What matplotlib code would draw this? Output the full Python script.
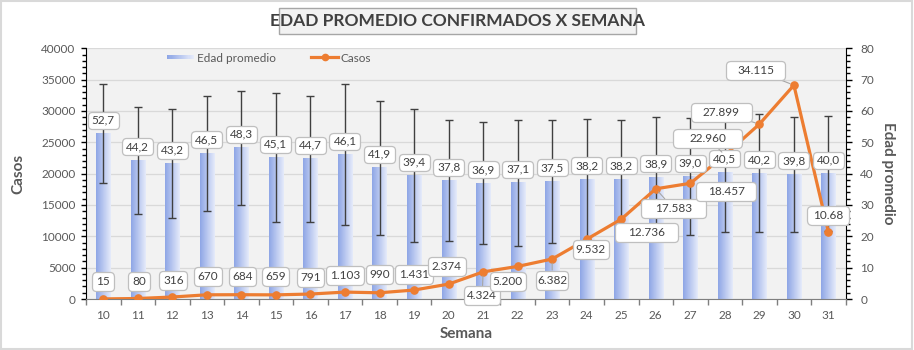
import matplotlib
matplotlib.use("Agg")
import matplotlib.pyplot as plt
import numpy as np
from matplotlib.offsetbox import DrawingArea, AnnotationBbox
from matplotlib.text import Text
from matplotlib.legend_handler import HandlerBase
from matplotlib.patches import Rectangle
from matplotlib.lines import Line2D
from matplotlib.colors import LinearSegmentedColormap
from matplotlib.ticker import MultipleLocator, FixedLocator

plt.rcParams['font.family'] = ['Lato', 'DejaVu Sans']

# ---------------- data ----------------
weeks = [10, 11, 12, 13, 14, 15, 16, 17, 18, 19, 20, 21, 22, 23, 24, 25, 26, 27, 28, 29, 30, 31]
casos = [15, 80, 316, 670, 684, 659, 791, 1103, 990, 1431, 2374, 4324, 5200, 6382,
         9532, 12736, 17583, 18457, 22960, 27899, 34115, 10680]
casos_labels = ["15", "80", "316", "670", "684", "659", "791", "1.103", "990", "1.431", "2.374",
                "4.324", "5.200", "6.382", "9.532", "12.736", "17.583", "18.457", "22.960",
                "27.899", "34.115", "10.68"]
edad = [52.7, 44.2, 43.2, 46.5, 48.3, 45.1, 44.7, 46.1, 41.9, 39.4, 37.8, 36.9, 37.1, 37.5,
        38.2, 38.2, 38.9, 39.0, 40.5, 40.2, 39.8, 40.0]
edad_sd = [15.8, 17.2, 17.5, 18.3, 18.2, 20.6, 20.2, 22.6, 21.4, 21.2, 19.3, 19.5, 20.1, 19.6,
           19.2, 18.9, 19.1, 18.7, 19.1, 18.7, 18.4, 18.4]
edad_labels = [f"{v:.1f}".replace('.', ',') for v in edad]

# ---------------- layout / style ----------------
W, H = 914, 350
label_color = '#595959'
text_dark = '#404040'
orange = '#ED7D31'
cmap = LinearSegmentedColormap.from_list('g', ['#8ea6e6', '#e6ebfa'])

# per-label box widths (px) and offsets (px) for Casos labels
casos_box_w = [22, 22, 28, 28, 27, 27, 27, 38, 27, 38, 38, 36, 36, 32, 36, 63, 65, 60, 69, 61, 59, 42]
casos_off = [(0, 17), (1, 17), (1, 17), (1, 18), (1, 18), (0, 18), (0, 17), (0, 17), (0, 18),
             (0, 16), (-2, 18), (-1, -24), (-10, -15), (0, -21), (4, -10), (25, -13),
             (18, -20), (36, -8), (-17, 17), (-38, 12), (-38, 15), (0, 17)]
casos_leader = [False] * 11 + [True, False, True, False, False, True, False, True, True, True, False]

fig = plt.figure(figsize=(W / 100, H / 100), dpi=100)
fig.patches.append(Rectangle((0.001, 0.002), 0.997, 0.995, transform=fig.transFigure,
                             fill=False, ec='#d9d9d9', lw=1.5))

ax = fig.add_axes([86 / W, 1 - 299 / H, (845.7 - 86) / W, (299 - 48.3) / H])
ax2 = ax.twinx()
ax.set_zorder(3)
ax2.set_zorder(2)
ax.patch.set_visible(False)
ax2.patch.set_visible(True)
ax2.patch.set_facecolor('#f2f2f2')

x = np.arange(len(weeks))

# bars (age, right axis) with horizontal gradient
bars = ax2.bar(x, edad, width=0.41, color='none', edgecolor='none', zorder=2)
grad = np.linspace(0, 1, 64).reshape(1, -1)
for b in bars:
    x0, w, h = b.get_x(), b.get_width(), b.get_height()
    ax2.imshow(grad, extent=[x0, x0 + w, 0, h], aspect='auto', cmap=cmap,
               interpolation='bilinear', zorder=2)
ax2.errorbar(x, edad, yerr=edad_sd, fmt='none', ecolor=text_dark, elinewidth=1,
             capsize=2.6, capthick=1, zorder=3)
ax2.set_xlim(-0.5, len(weeks) - 0.5)
ax2.set_ylim(0, 80)
ax2.yaxis.set_major_locator(MultipleLocator(10))
ax2.yaxis.set_minor_locator(MultipleLocator(2))
ax2.grid(axis='y', which='major', color='#d9d9d9', lw=0.9)
ax2.set_axisbelow(True)
ax2.tick_params(axis='y', which='major', length=4.5, width=1, color='black',
                labelsize=8.5, labelcolor=label_color, pad=6)
ax2.tick_params(axis='y', which='minor', length=3, width=1, color='black')
for s in ['left', 'top', 'bottom']:
    ax2.spines[s].set_visible(False)
ax2.spines['right'].set_color('black')
ax2.set_ylabel('Edad promedio', rotation=270, fontsize=11, fontweight='bold', color=label_color)
ax2.yaxis.set_label_coords(1.065, 0.5)

# line (cases, left axis)
line, = ax.plot(x, casos, color=orange, lw=2.3, marker='o', ms=5.2, zorder=4)
ax.set_xlim(-0.5, len(weeks) - 0.5)
ax.set_ylim(0, 40000)
ax.yaxis.set_major_locator(MultipleLocator(5000))
ax.yaxis.set_minor_locator(MultipleLocator(1000))
ax.tick_params(axis='y', which='major', length=3.5, width=1, color='black',
               labelsize=8.5, labelcolor=label_color, pad=4)
ax.tick_params(axis='y', which='minor', length=3, width=1, color='black')
ax.set_xticks(x)
ax.set_xticklabels([str(wk) for wk in weeks])
ax.xaxis.set_minor_locator(FixedLocator(np.arange(-0.5, len(weeks), 1.0)))
ax.tick_params(axis='x', which='major', length=0, labelsize=8.5, labelcolor=label_color, pad=8)
ax.tick_params(axis='x', which='minor', length=4, width=1, color='#7f7f7f')
for s in ['top', 'right']:
    ax.spines[s].set_visible(False)
ax.spines['left'].set_color('black')
ax.spines['bottom'].set_color('#7f7f7f')
ax.set_ylabel('Casos', fontsize=11, fontweight='bold', color=label_color)
ax.yaxis.set_label_coords(-0.080, 0.5)
ax.set_xlabel('Semana', fontsize=11, fontweight='bold', color=label_color)
ax.xaxis.set_label_coords(0.5, -0.112)


def box_label(trans, xv, yv, s, wpx, hpx, dx, dy, leader):
    wpt, hpt = wpx * 0.72, hpx * 0.72
    da = DrawingArea(wpt, hpt, 0, 0, clip=False)
    t = Text(wpt / 2, hpt / 2, s, ha='center', va='center', fontsize=8.5, color=text_dark)
    da.add_artist(t)
    arrow = dict(arrowstyle='-', color='#a6a6a6', lw=0.8, shrinkA=0, shrinkB=3) if leader else None
    ab = AnnotationBbox(da, (xv, yv), xycoords=trans, xybox=(dx, dy), boxcoords='offset pixels',
                        box_alignment=(0.5, 0.5), frameon=True, pad=0,
                        bboxprops=dict(boxstyle='round,pad=0,rounding_size=0.3', fc='white',
                                       ec='#bfbfbf', lw=0.9),
                        arrowprops=arrow, annotation_clip=False, zorder=6)
    ax.add_artist(ab)


for i in range(len(weeks)):
    box_label(ax2.transData, x[i], edad[i], edad_labels[i], 31, 17, 0, 13.5, False)
for i in range(len(weeks)):
    dx, dy = casos_off[i]
    box_label(ax.transData, x[i], casos[i], casos_labels[i], casos_box_w[i], 19, dx, dy,
              casos_leader[i])


# legend with gradient patch
class GradHandler(HandlerBase):
    def create_artists(self, legend, orig_handle, xdescent, ydescent, width, height,
                       fontsize, trans):
        n = 24
        arts = []
        hh = height * 0.5
        y0 = -ydescent + (height - hh) / 2
        for k in range(n):
            r = Rectangle((-xdescent + k * width / n, y0), width / n * 1.05, hh,
                          fc=cmap(k / (n - 1)), ec='none', transform=trans)
            arts.append(r)
        return arts


proxy = Rectangle((0, 0), 1, 1)
leg_line = Line2D([], [], color=orange, lw=2.3, marker='o', ms=4.5)
leg = ax.legend([proxy, leg_line], ['Edad promedio', 'Casos'], handler_map={proxy: GradHandler()},
                bbox_to_anchor=(167 / W, 1 - 58 / H), bbox_transform=fig.transFigure,
                loc='center left', ncol=2, frameon=False, borderpad=0, borderaxespad=0,
                handlelength=2.3, handletextpad=0.2, columnspacing=3.0, fontsize=8.5,
                labelcolor=label_color)

# title with box
fig.patches.append(Rectangle((279 / W, 1 - 34 / H), 357 / W, 26 / H, transform=fig.transFigure,
                             fc='#f2f2f2', ec='#a6a6a6', lw=1))
fig.text(457.5 / W, 1 - 21.5 / H, 'EDAD PROMEDIO CONFIRMADOS X SEMANA', ha='center', va='center',
         fontsize=12.5, fontweight='bold', color=text_dark)

fig.savefig('out.png', dpi=100)
